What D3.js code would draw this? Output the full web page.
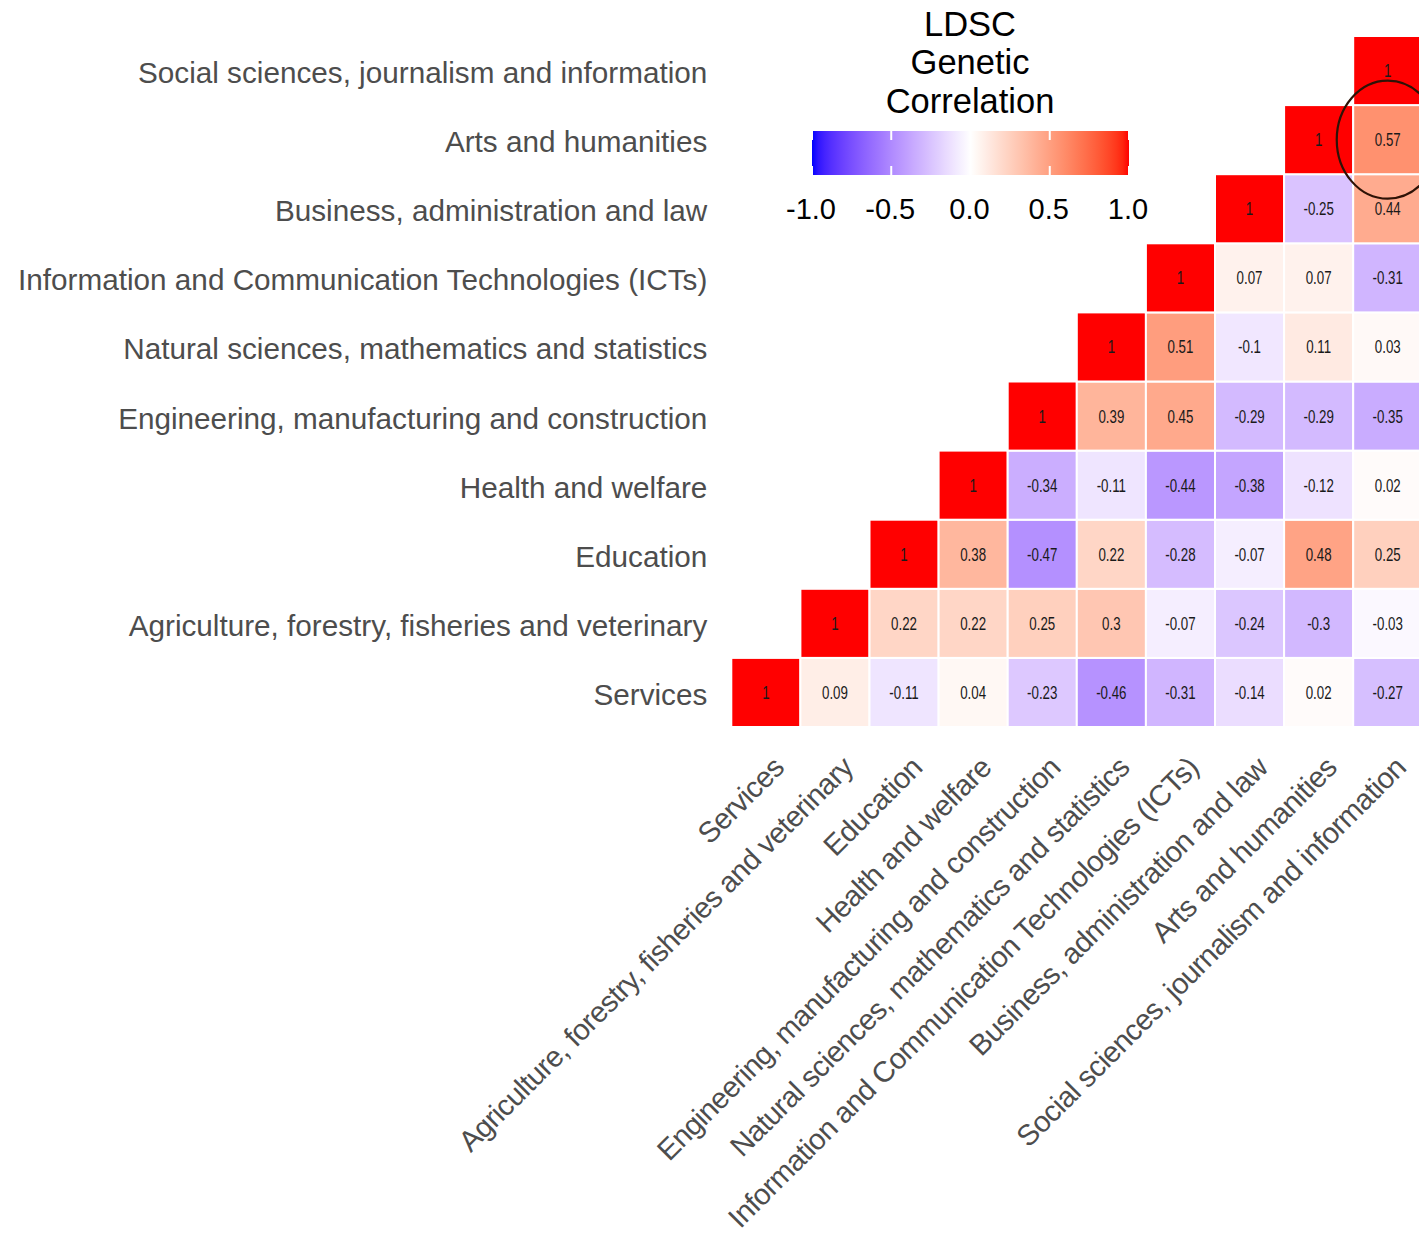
<!DOCTYPE html>
<html>
<head>
<meta charset="utf-8">
<script src="https://cdn.jsdelivr.net/npm/d3@7"></script>
<style>
  html, body { margin: 0; padding: 0; background: #ffffff; }
  svg { display: block; }
</style>
</head>
<body>
<svg id="chart" width="1419" height="1237"></svg>
<script>
// Fields of study, ordered from the bottom row / left column outward
const categories = [
  "Services",
  "Agriculture, forestry, fisheries and veterinary",
  "Education",
  "Health and welfare",
  "Engineering, manufacturing and construction",
  "Natural sciences, mathematics and statistics",
  "Information and Communication Technologies (ICTs)",
  "Business, administration and law",
  "Arts and humanities",
  "Social sciences, journalism and information"
];

// Genetic correlations: each row starts at its own column (diagonal) and runs to the right
const rgServices    = [1, 0.09, -0.11, 0.04, -0.23, -0.46, -0.31, -0.14, 0.02, -0.27];
const rgAgriculture = [1, 0.22, 0.22, 0.25, 0.3, -0.07, -0.24, -0.3, -0.03];
const rgEducation   = [1, 0.38, -0.47, 0.22, -0.28, -0.07, 0.48, 0.25];
const rgHealth      = [1, -0.34, -0.11, -0.44, -0.38, -0.12, 0.02];
const rgEngineering = [1, 0.39, 0.45, -0.29, -0.29, -0.35];
const rgNatural     = [1, 0.51, -0.1, 0.11, 0.03];
const rgICT         = [1, 0.07, 0.07, -0.31];
const rgBusiness    = [1, -0.25, 0.44];
const rgArts        = [1, 0.57];
const rgSocial      = [1];

const legendTicks = [-1.0, -0.5, 0.0, 0.5, 1.0];
const legendTitle = ["LDSC", "Genetic", "Correlation"];
// The pair singled out with a ring
const highlight = { row: "Arts and humanities", col: "Social sciences, journalism and information" };

const rgRows = [rgServices, rgAgriculture, rgEducation, rgHealth, rgEngineering,
                rgNatural, rgICT, rgBusiness, rgArts, rgSocial];

// Long-form table of tiles
const tiles = [];
rgRows.forEach((vals, i) => {
  vals.forEach((v, k) => {
    tiles.push({ row: categories[i], col: categories[i + k], value: v });
  });
});

const svg = d3.select("#chart");

const cell = 69.1;
const x = d3.scaleBand().domain(categories).range([731.3, 731.3 + cell * categories.length]);
const y = d3.scaleBand().domain(categories.slice().reverse()).range([36, 36 + cell * categories.length]);

const color = d3.scaleLinear()
  .domain([-1, 0, 1])
  .range(["#0000ff", "#ffffff", "#ff0000"])
  .interpolate(d3.interpolateLab);

// Tiles
const plot = svg.append("g");
plot.selectAll("rect.tile")
  .data(tiles)
  .join("rect")
  .attr("class", "tile")
  .attr("x", d => x(d.col))
  .attr("y", d => y(d.row))
  .attr("width", x.bandwidth())
  .attr("height", y.bandwidth())
  .attr("fill", d => color(d.value))
  .attr("stroke", "#ffffff")
  .attr("stroke-width", 2);

// Values in the tiles (condensed lettering)
plot.selectAll("text.val")
  .data(tiles)
  .join("text")
  .attr("class", "val")
  .attr("transform", d =>
    `translate(${x(d.col) + x.bandwidth() / 2},${y(d.row) + y.bandwidth() / 2 + 6.5}) scale(0.72,1)`)
  .attr("text-anchor", "middle")
  .attr("font-family", "'Liberation Sans', Arial, sans-serif")
  .attr("font-size", 18.5)
  .attr("fill", "#1a1a1a")
  .text(d => String(d.value));

// Y axis labels
const yAxis = d3.axisLeft(y).tickSize(0).tickPadding(24);
const gy = svg.append("g").attr("transform", `translate(${731.3},0)`).call(yAxis);
gy.select(".domain").remove();
gy.selectAll("text")
  .attr("font-family", "'Liberation Sans', Arial, sans-serif")
  .attr("font-size", 29.7)
  .attr("fill", "#4d4d4d")
  .attr("dy", "0.42em");

// X axis labels, rotated 45 degrees and anchored at their ends
const xAxis = d3.axisBottom(x).tickSize(0).tickPadding(0);
const gx = svg.append("g").attr("transform", `translate(0,${36 + cell * categories.length})`).call(xAxis);
gx.select(".domain").remove();
gx.selectAll(".tick text")
  .attr("font-family", "'Liberation Sans', Arial, sans-serif")
  .attr("font-size", 29.2)
  .attr("letter-spacing", -0.55)
  .attr("fill", "#4d4d4d")
  .attr("text-anchor", "end")
  .attr("x", 0)
  .attr("y", 0)
  .attr("dy", "0.72em")
  .attr("transform", "translate(5,27.5) rotate(-45)");

// Ring around the highlighted pair
svg.append("ellipse")
  .attr("cx", x(highlight.col) + x.bandwidth() / 2)
  .attr("cy", y(highlight.row) + y.bandwidth() / 2)
  .attr("rx", 51)
  .attr("ry", 59)
  .attr("fill", "none")
  .attr("stroke", "#2e1206")
  .attr("stroke-width", 2.2);

// Legend: title
const legend = svg.append("g");
legend.selectAll("text.title")
  .data(legendTitle)
  .join("text")
  .attr("class", "title")
  .attr("x", 970)
  .attr("y", (d, i) => 35.5 + i * 38.6)
  .attr("text-anchor", "middle")
  .attr("font-family", "'Liberation Sans', Arial, sans-serif")
  .attr("font-size", 34.5)
  .attr("fill", "#000000")
  .text(d => d);

// Legend: colour bar
const lx = d3.scaleLinear().domain([-1, 1]).range([812, 1129]);
const barTop = 131, barH = 44;
const defs = svg.append("defs");
const grad = defs.append("linearGradient").attr("id", "rgGrad")
  .attr("x1", "0%").attr("x2", "100%").attr("y1", "0%").attr("y2", "0%");
d3.range(0, 1.0001, 0.02).forEach(t => {
  grad.append("stop").attr("offset", `${t * 100}%`).attr("stop-color", color(-1 + 2 * t));
});
legend.append("rect")
  .attr("x", lx(-1)).attr("y", barTop)
  .attr("width", lx(1) - lx(-1)).attr("height", barH)
  .attr("fill", "url(#rgGrad)");

// Legend: white tick marks on the bar
legend.selectAll("line.tk-top")
  .data(legendTicks)
  .join("line")
  .attr("x1", d => lx(d)).attr("x2", d => lx(d))
  .attr("y1", barTop).attr("y2", barTop + 9)
  .attr("stroke", "#ffffff").attr("stroke-width", 2);
legend.selectAll("line.tk-bot")
  .data(legendTicks)
  .join("line")
  .attr("x1", d => lx(d)).attr("x2", d => lx(d))
  .attr("y1", barTop + barH - 9).attr("y2", barTop + barH)
  .attr("stroke", "#ffffff").attr("stroke-width", 2);

// Legend: tick labels
legend.selectAll("text.lab")
  .data(legendTicks)
  .join("text")
  .attr("class", "lab")
  .attr("x", d => lx(d) - 1)
  .attr("y", 219)
  .attr("text-anchor", "middle")
  .attr("font-family", "'Liberation Sans', Arial, sans-serif")
  .attr("font-size", 29)
  .attr("fill", "#000000")
  .text(d => d.toFixed(1));
</script>
</body>
</html>
